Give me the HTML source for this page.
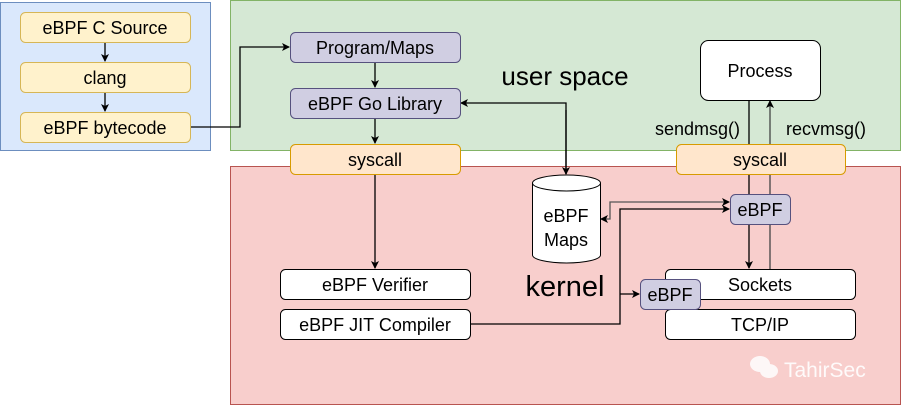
<!DOCTYPE html>
<html><head><meta charset="utf-8"><style>html,body{margin:0;padding:0;background:#fff}svg{display:block}</style></head>
<body>
<svg width="901" height="405" viewBox="0 0 901 405" xmlns="http://www.w3.org/2000/svg" font-family="Liberation Sans, Arial, sans-serif">
<defs>
<marker id="a" markerWidth="8" markerHeight="8" refX="7" refY="4" orient="auto" markerUnits="userSpaceOnUse"><path d="M0,0 L8,4 L0,8 L2,4 Z" fill="#000"/></marker>
<marker id="g" markerWidth="8" markerHeight="8" refX="7" refY="4" orient="auto" markerUnits="userSpaceOnUse"><path d="M0,0 L8,4 L0,8 L2,4 Z" fill="#000"/></marker>
</defs>
<rect x="0.5" y="2.5" width="210" height="148" fill="#dae8fc" stroke="#6c8ebf"/>
<rect x="230.5" y="0.5" width="670" height="150" fill="#d5e8d4" stroke="#82b366"/>
<rect x="230.5" y="166.5" width="670" height="238" fill="#f8cecc" stroke="#b85450"/>
<g fill="none" stroke="#000" stroke-width="1.3">
<line x1="105" y1="42" x2="105" y2="61" marker-end="url(#a)"/>
<line x1="105" y1="92" x2="105" y2="111" marker-end="url(#a)"/>
<polyline points="190,127 240,127 240,47 289,47" marker-end="url(#a)"/>
<line x1="375" y1="62" x2="375" y2="87" marker-end="url(#a)"/>
<line x1="375" y1="118" x2="375" y2="143" marker-end="url(#a)"/>
<line x1="375" y1="174" x2="375" y2="268" marker-end="url(#a)"/>
<polyline points="566,174 566,103 461,103" marker-end="url(#a)"/>
<polyline points="566,110 566,174" marker-end="url(#a)"/>
<polyline points="470,324 620,324 620,209 729,209" marker-end="url(#a)"/>
<line x1="620" y1="294" x2="639" y2="294" marker-end="url(#a)"/>
<polyline points="700,202 610,202 610,219 601,219" stroke="#555" marker-end="url(#g)"/>
<line x1="650" y1="202" x2="729" y2="202" stroke="#555" marker-end="url(#g)"/>
<line x1="749" y1="100" x2="749" y2="268" marker-end="url(#a)"/>
<line x1="770" y1="269" x2="770" y2="101" stroke="#444" marker-end="url(#g)"/>
</g>
<g font-size="18" text-anchor="middle" fill="#000">
<rect x="20.5" y="12.5" width="170" height="30" rx="5" fill="#fff2cc" stroke="#d6b656"/><text x="105" y="34">eBPF C Source</text>
<rect x="20.5" y="62.5" width="170" height="30" rx="5" fill="#fff2cc" stroke="#d6b656"/><text x="105" y="84">clang</text>
<rect x="20.5" y="112.5" width="170" height="30" rx="5" fill="#fff2cc" stroke="#d6b656"/><text x="105" y="134">eBPF bytecode</text>
<rect x="290.5" y="32.5" width="170" height="30" rx="5" fill="#d0cee2" stroke="#56517e"/><text x="375" y="54">Program/Maps</text>
<rect x="290.5" y="88.5" width="170" height="30" rx="5" fill="#d0cee2" stroke="#56517e"/><text x="375" y="110">eBPF Go Library</text>
<rect x="290.5" y="144.5" width="170" height="30" rx="5" fill="#ffe6cc" stroke="#d79b00"/><text x="375" y="166">syscall</text>
<rect x="676.5" y="144.5" width="169" height="30" rx="5" fill="#ffe6cc" stroke="#d79b00"/><text x="760" y="166">syscall</text>
<rect x="700.5" y="40.5" width="120" height="60" rx="8" fill="#fff" stroke="#000"/><text x="760" y="77">Process</text>
<rect x="280.5" y="269.5" width="190" height="30" rx="5" fill="#fff" stroke="#000"/><text x="375" y="291">eBPF Verifier</text>
<rect x="280.5" y="309.5" width="190" height="30" rx="5" fill="#fff" stroke="#000"/><text x="375" y="331">eBPF JIT Compiler</text>
<rect x="665.5" y="269.5" width="190" height="30" rx="5" fill="#fff" stroke="#000"/><text x="760" y="291">Sockets</text>
<rect x="665.5" y="309.5" width="190" height="30" rx="5" fill="#fff" stroke="#000"/><text x="760" y="331">TCP/IP</text>
<rect x="730.5" y="194.5" width="60" height="30" rx="5" fill="#d0cee2" stroke="#56517e"/><text x="760" y="216">eBPF</text>
<rect x="640.5" y="279.5" width="60" height="30" rx="5" fill="#d0cee2" stroke="#56517e"/><text x="670" y="301">eBPF</text>
</g>
<path d="M532.5,183 A34,8 0 0 1 600.5,183 L600.5,255 A34,8 0 0 1 532.5,255 Z" fill="#fff" stroke="#000"/>
<path d="M532.5,183 A34,8 0 0 0 600.5,183" fill="none" stroke="#000"/>
<text x="566" y="222" font-size="18" text-anchor="middle">eBPF</text>
<text x="566" y="246" font-size="18" text-anchor="middle">Maps</text>
<text x="565" y="85" font-size="26" text-anchor="middle">user space</text>
<text x="565" y="296" font-size="29" text-anchor="middle">kernel</text>
<text x="740" y="135" font-size="18" text-anchor="end">sendmsg()</text>
<text x="786" y="135" font-size="18">recvmsg()</text>
<g fill="#fff" opacity="0.85"><ellipse cx="760" cy="364" rx="10" ry="8"/><ellipse cx="769" cy="371" rx="9" ry="7"/></g>
<text x="784" y="377" font-size="21" fill="#fff" opacity="0.9">TahirSec</text>
</svg>
</body></html>
